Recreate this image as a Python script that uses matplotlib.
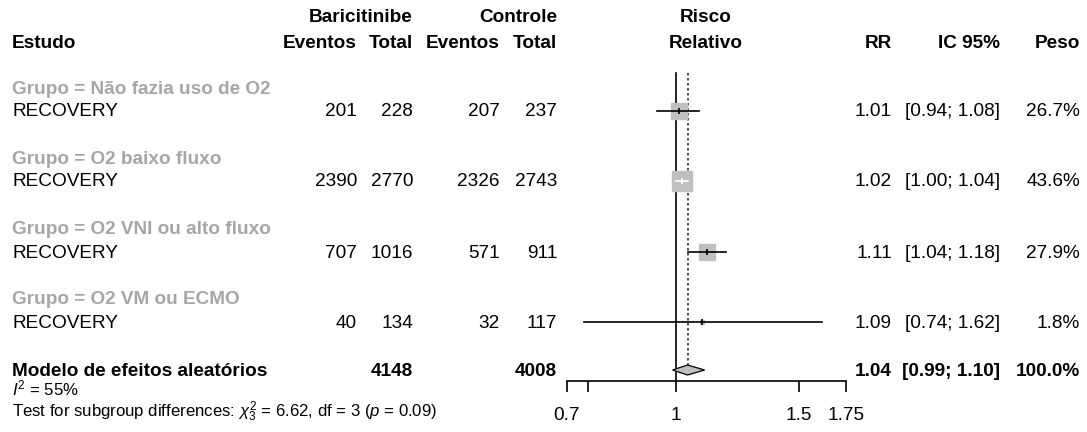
import numpy as np
import matplotlib
matplotlib.use("Agg")
import matplotlib.pyplot as plt

plt.rcParams['font.family'] = ['Liberation Sans', 'DejaVu Sans']
plt.rcParams['mathtext.fontset'] = 'custom'
plt.rcParams['mathtext.rm'] = 'Liberation Sans'
plt.rcParams['mathtext.it'] = 'Liberation Sans:italic'

# dados
grupos = ["Grupo = Não fazia uso de O2", "Grupo = O2 baixo fluxo",
          "Grupo = O2 VNI ou alto fluxo", "Grupo = O2 VM ou ECMO"]
estudos = ["RECOVERY", "RECOVERY", "RECOVERY", "RECOVERY"]
ev_bari = [201, 2390, 707, 40]
tot_bari = [228, 2770, 1016, 134]
ev_ctrl = [207, 2326, 571, 32]
tot_ctrl = [237, 2743, 911, 117]
rr = [1.01, 1.02, 1.11, 1.09]
ic_low = [0.94, 1.00, 1.04, 0.74]
ic_up = [1.08, 1.04, 1.18, 1.62]
peso = [26.7, 43.6, 27.9, 1.8]

rr_total = 1.04
ic_total = (0.99, 1.10)
tot_bari_sum = 4148
tot_ctrl_sum = 4008
i2 = 55
chi2 = 6.62
df_ = 3
p_val = 0.09

W, H = 1087, 432
fig = plt.figure(figsize=(W / 100, H / 100), dpi=100)

# eixo de texto em pixels
tx = fig.add_axes([0, 0, 1, 1])
tx.set_xlim(0, W)
tx.set_ylim(H, 0)
tx.axis('off')

fs = 13.7
cinza = '#a6a6a6'

# colunas (borda direita)
x_estudo = 12
x_evb, x_totb, x_evc, x_totc = 357, 413, 500, 557
x_rr, x_ic, x_peso = 892, 1000, 1080
x_risco = 706

# cabeçalho
y_h1, y_h2 = 18, 43
tx.text(x_totb, y_h1, "Baricitinibe", ha='right', va='center', fontsize=fs, weight='bold')
tx.text(x_totc, y_h1, "Controle", ha='right', va='center', fontsize=fs, weight='bold')
tx.text(x_risco, y_h1, "Risco", ha='center', va='center', fontsize=fs, weight='bold')
tx.text(x_estudo, y_h2, "Estudo", ha='left', va='center', fontsize=fs, weight='bold')
for x, s in [(x_evb, "Eventos"), (x_totb, "Total"), (x_evc, "Eventos"), (x_totc, "Total"),
             (x_rr, "RR"), (x_ic, "IC 95%"), (x_peso, "Peso")]:
    tx.text(x, y_h2, s, ha='right', va='center', fontsize=fs, weight='bold')
tx.text(x_risco, y_h2, "Relativo", ha='center', va='center', fontsize=fs, weight='bold')

y_grupo = [89, 159, 230, 300]
y_linha = [111, 181, 252, 322]
y_total = 370

for i in range(len(grupos)):
    tx.text(x_estudo, y_grupo[i], grupos[i], ha='left', va='center', fontsize=fs,
            weight='bold', color=cinza)
    yl = y_linha[i] + 1
    tx.text(x_estudo, yl, estudos[i], ha='left', va='center', fontsize=fs)
    tx.text(x_evb, yl, str(ev_bari[i]), ha='right', va='center', fontsize=fs)
    tx.text(x_totb, yl, str(tot_bari[i]), ha='right', va='center', fontsize=fs)
    tx.text(x_evc, yl, str(ev_ctrl[i]), ha='right', va='center', fontsize=fs)
    tx.text(x_totc, yl, str(tot_ctrl[i]), ha='right', va='center', fontsize=fs)
    tx.text(x_rr, yl, f"{rr[i]:.2f}", ha='right', va='center', fontsize=fs)
    tx.text(x_ic, yl, f"[{ic_low[i]:.2f}; {ic_up[i]:.2f}]", ha='right', va='center', fontsize=fs)
    tx.text(x_peso, yl, f"{peso[i]:.1f}%", ha='right', va='center', fontsize=fs)

yt = y_total + 1
tx.text(x_estudo, yt, "Modelo de efeitos aleatórios", ha='left', va='center', fontsize=fs, weight='bold')
tx.text(x_totb, yt, str(tot_bari_sum), ha='right', va='center', fontsize=fs, weight='bold')
tx.text(x_totc, yt, str(tot_ctrl_sum), ha='right', va='center', fontsize=fs, weight='bold')
tx.text(x_rr, yt, f"{rr_total:.2f}", ha='right', va='center', fontsize=fs, weight='bold')
tx.text(x_ic, yt, f"[{ic_total[0]:.2f}; {ic_total[1]:.2f}]", ha='right', va='center', fontsize=fs, weight='bold')
tx.text(x_peso, yt, "100.0%", ha='right', va='center', fontsize=fs, weight='bold')

fs2 = 12.1
tx.text(x_estudo, 388, f"$I^2$ = {i2}%", ha='left', va='center', fontsize=fs2)
tx.text(x_estudo, 412, f"Test for subgroup differences: $\\chi^2_{df_}$ = {chi2:.2f}, df = {df_} ($p$ = {p_val:.2f})",
        ha='left', va='center', fontsize=fs2)

# forest
x0, x1, y_eixo = 567, 846, 381
ax = fig.add_axes([x0 / W, (H - y_eixo) / H, (x1 - x0) / W, y_eixo / H])
ax.set_xscale('log')
ax.set_xlim(0.7, 1.75)
ax.set_ylim(y_eixo, 0)
ax.patch.set_alpha(0)
for s in ['top', 'right', 'left']:
    ax.spines[s].set_visible(False)
ax.spines['bottom'].set_linewidth(1.2)
ax.set_yticks([])
ticks = [0.7, 0.75, 1, 1.5, 1.75]
ax.set_xticks(ticks)
ax.set_xticklabels(["0.7", "", "1", "1.5", "1.75"], fontsize=fs)
ax.xaxis.set_minor_locator(matplotlib.ticker.NullLocator())
ax.tick_params(axis='x', direction='out', length=8, width=1.2, pad=11)

ax.plot([1, 1], [73, y_eixo], color='black', lw=1.2)
ax.plot([rr_total, rr_total], [73, y_total], color='#333333', lw=1.2, ls=(0, (1.5, 1.5)))

px_per_log = (x1 - x0) / np.log(1.75 / 0.7)
for i in range(len(rr)):
    yl = y_linha[i]
    lado = 20.5 * np.sqrt(peso[i] / max(peso))
    ci_px = np.log(ic_up[i] / ic_low[i]) * px_per_log
    cor = 'white' if ci_px < lado else 'black'
    ax.plot(rr[i], yl, marker='s', ms=lado * 0.72, color='#bfbfbf', mec='#bfbfbf', zorder=2)
    ax.plot([ic_low[i], ic_up[i]], [yl, yl], color=cor, lw=1.2, zorder=3)
    ax.plot(rr[i], yl, marker='|', ms=5, mew=1.2, color=cor, zorder=3)

dx = [ic_total[0], rr_total, ic_total[1], rr_total]
dy = [y_total, y_total - 5, y_total, y_total + 5]
ax.fill(dx, dy, facecolor='#bfbfbf', edgecolor='black', lw=0.9, zorder=3)

fig.savefig("out.png", dpi=100)
